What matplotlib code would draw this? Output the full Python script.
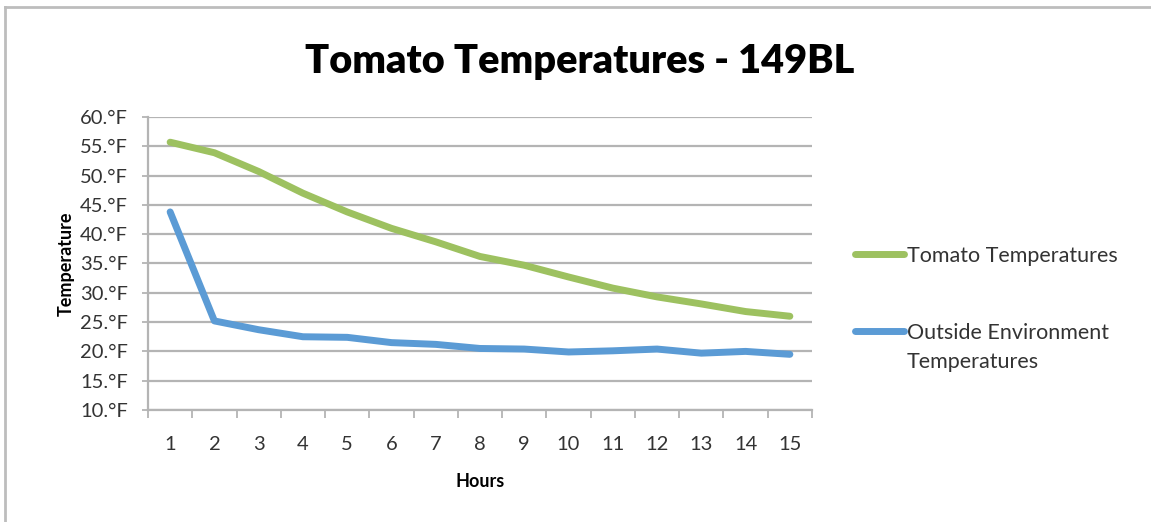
import matplotlib.pyplot as plt
from matplotlib.lines import Line2D

hours = list(range(1, 16))
tomato = [55.7, 53.9, 50.7, 47.0, 43.8, 41.0, 38.7, 36.2, 34.7, 32.7, 30.8, 29.3, 28.1, 26.8, 26.0]
outside = [43.8, 25.2, 23.7, 22.5, 22.4, 21.5, 21.2, 20.5, 20.4, 19.9, 20.1, 20.4, 19.7, 20.0, 19.5]
y_ticks = list(range(10, 61, 5))

plt.rcParams['font.family'] = ['Lato', 'DejaVu Sans']
green = '#9DC160'
blue = '#5B9BD5'
grid_c = '#B4B4B4'
txt_c = '#333333'

fig = plt.figure(figsize=(11.51, 5.22), dpi=100)
ax = fig.add_axes([148 / 1151, 1 - 410 / 522, 664 / 1151, 293 / 522])

ax.plot(hours, tomato, color=green, lw=5, solid_capstyle='round', solid_joinstyle='round')
ax.plot(hours, outside, color=blue, lw=5, solid_capstyle='round', solid_joinstyle='round')

ax.set_xlim(0.5, 15.5)
ax.set_ylim(10, 60)
ax.set_yticks(y_ticks)
ax.set_yticklabels([f"{v}.°F" for v in y_ticks])
ax.set_xticks(hours)
ax.set_xticks([h - 0.5 for h in hours] + [15.5], minor=True)
ax.tick_params(axis='x', which='major', length=0, pad=19, labelsize=14.5, colors=txt_c)
ax.tick_params(axis='x', which='minor', length=6, width=1.3, color=grid_c, direction='out')
ax.tick_params(axis='y', length=4.5, width=1.3, color=grid_c, pad=10, labelsize=14.5, labelcolor=txt_c)
ax.grid(axis='y', color=grid_c, lw=1.6)
ax.set_axisbelow(True)
for s in ['top', 'right']:
    ax.spines[s].set_visible(False)
for s in ['left', 'bottom']:
    ax.spines[s].set_color(grid_c)
    ax.spines[s].set_linewidth(1.6)

ax.set_xlabel("Hours", fontsize=13, fontweight='bold', labelpad=14)
ax.set_ylabel("Temperature", fontsize=13, fontweight='bold', labelpad=4)
fig.text(580 / 1151, 1 - 62 / 522, "Tomato Temperatures - 149BL", fontsize=28.5,
         fontweight='heavy', ha='center', va='center')

# legend drawn by hand to match the placement
fig.add_artist(Line2D([855 / 1151, 904 / 1151], [1 - 254 / 522] * 2, color=green, lw=5,
                      solid_capstyle='round', transform=fig.transFigure))
fig.text(907 / 1151, 1 - 256 / 522, "Tomato Temperatures", fontsize=15.5, va='center', color=txt_c)
fig.add_artist(Line2D([855 / 1151, 904 / 1151], [1 - 331 / 522] * 2, color=blue, lw=5,
                      solid_capstyle='round', transform=fig.transFigure))
fig.text(907 / 1151, 1 - 333 / 522, "Outside Environment", fontsize=15.5, va='center', color=txt_c)
fig.text(907 / 1151, 1 - 362 / 522, "Temperatures", fontsize=15.5, va='center', color=txt_c)

# outer frame (left and top edges only visible)
fig.add_artist(Line2D([5 / 1151, 5 / 1151], [0, 1 - 7 / 522], color='#BDBDBD', lw=2, transform=fig.transFigure))
fig.add_artist(Line2D([5 / 1151, 1], [1 - 7 / 522] * 2, color='#BDBDBD', lw=2, transform=fig.transFigure))

fig.savefig("out.png", dpi=100)
